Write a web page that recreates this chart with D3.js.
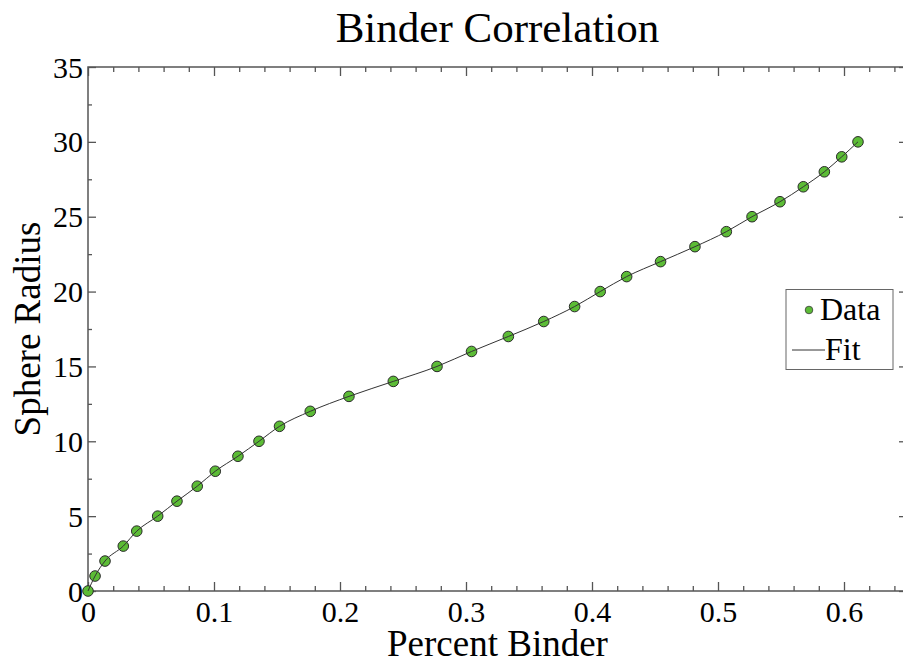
<!DOCTYPE html>
<html>
<head>
<meta charset="utf-8">
<script src="https://cdn.jsdelivr.net/npm/d3@7"></script>
<style>
  body { margin: 0; background: #fff; }
  svg { display: block; font-family: "Liberation Serif", "Times New Roman", serif; }
</style>
</head>
<body>
<svg id="chart" width="903" height="661"></svg>
<script>
// values
const percentBinder = [0, 0.0056, 0.0135, 0.028, 0.0387, 0.0553, 0.0706, 0.0867, 0.101, 0.119,
  0.1357, 0.152, 0.1764, 0.2071, 0.2423, 0.277, 0.3044, 0.3336, 0.3617, 0.3862,
  0.4065, 0.4275, 0.4544, 0.4817, 0.5066, 0.527, 0.5492, 0.5677, 0.5844, 0.5982, 0.6111];
const sphereRadius = [0, 1, 2, 3, 4, 5, 6, 7, 8, 9, 10, 11, 12, 13, 14, 15, 16, 17, 18, 19,
  20, 21, 22, 23, 24, 25, 26, 27, 28, 29, 30];
const xTicks = [0, 0.1, 0.2, 0.3, 0.4, 0.5, 0.6];
const yTicks = [0, 5, 10, 15, 20, 25, 30, 35];
const legendItems = ["Data", "Fit"];

const points = percentBinder.map((x, i) => ({x: x, y: sphereRadius[i]}));

const svg = d3.select("#chart");
const plotLeft = 88, plotRight = 907, plotTop = 67, plotBottom = 591;

const xScale = d3.scaleLinear().domain([0, 0.65]).range([plotLeft, plotRight]);
const yScale = d3.scaleLinear().domain([0, 35]).range([plotBottom, plotTop]);

const xMinor = d3.range(0, 0.651, 0.02).filter(v => !xTicks.some(t => Math.abs(t - v) < 1e-6));
const yMinor = d3.range(2.5, 35, 5);

const frameColor = "#555";
const green = "#5cbc36";

// draw an axis with inward ticks, styled flat
function drawAxis(axis, transform, withLabels) {
  const g = svg.append("g").attr("transform", transform).call(axis)
    .attr("font-family", null).attr("font-size", 30);
  g.select(".domain").remove();
  g.selectAll(".tick line").attr("stroke", frameColor).attr("stroke-width", 1.3);
  if (!withLabels) g.selectAll(".tick text").remove();
  return g;
}

// bottom
const xb = drawAxis(d3.axisBottom(xScale).tickValues(xTicks).tickSizeInner(-9).tickSizeOuter(0)
  .tickFormat(d => d === 0 ? "0" : d3.format(".1f")(d)), `translate(0,${plotBottom})`, true);
xb.selectAll(".tick text").attr("y", 31).attr("dy", null).attr("fill", "#000");
drawAxis(d3.axisBottom(xScale).tickValues(xMinor).tickSizeInner(-5).tickSizeOuter(0), `translate(0,${plotBottom})`, false);

// top
drawAxis(d3.axisTop(xScale).tickValues(xTicks).tickSizeInner(-9).tickSizeOuter(0), `translate(0,${plotTop})`, false);
drawAxis(d3.axisTop(xScale).tickValues(xMinor).tickSizeInner(-5).tickSizeOuter(0), `translate(0,${plotTop})`, false);

// left
const yl = drawAxis(d3.axisLeft(yScale).tickValues(yTicks).tickSizeInner(-8).tickSizeOuter(0),
  `translate(${plotLeft},0)`, true);
yl.selectAll(".tick text").attr("x", -5).attr("dy", 10).attr("fill", "#000");
drawAxis(d3.axisLeft(yScale).tickValues(yMinor).tickSizeInner(-4).tickSizeOuter(0), `translate(${plotLeft},0)`, false);

// right
drawAxis(d3.axisRight(yScale).tickValues(yTicks).tickSizeInner(-8).tickSizeOuter(0), `translate(${plotRight},0)`, false);
drawAxis(d3.axisRight(yScale).tickValues(yMinor).tickSizeInner(-4).tickSizeOuter(0), `translate(${plotRight},0)`, false);

// frame
svg.append("rect")
  .attr("x", plotLeft).attr("y", plotTop)
  .attr("width", plotRight - plotLeft).attr("height", plotBottom - plotTop)
  .attr("fill", "none").attr("stroke", frameColor).attr("stroke-width", 1.5);

// data markers
svg.append("g")
  .selectAll("circle")
  .data(points)
  .join("circle")
  .attr("cx", d => xScale(d.x))
  .attr("cy", d => yScale(d.y))
  .attr("r", 5.3)
  .attr("fill", green)
  .attr("stroke", "#2a2a2a")
  .attr("stroke-width", 1);

// fit curve, on top of markers
const fitLine = d3.line()
  .x(d => xScale(d.x))
  .y(d => yScale(d.y))
  .curve(d3.curveMonotoneX);

svg.append("path")
  .datum(points)
  .attr("d", fitLine)
  .attr("fill", "none")
  .attr("stroke", "#333")
  .attr("stroke-width", 1);

// title and axis labels
svg.append("text")
  .attr("x", (plotLeft + plotRight) / 2).attr("y", 42)
  .attr("text-anchor", "middle").attr("font-size", 43)
  .text("Binder Correlation");

svg.append("text")
  .attr("x", (plotLeft + plotRight) / 2).attr("y", 656)
  .attr("text-anchor", "middle").attr("font-size", 37)
  .text("Percent Binder");

svg.append("text")
  .attr("transform", `translate(40,${(plotTop + plotBottom) / 2}) rotate(-90)`)
  .attr("text-anchor", "middle").attr("font-size", 37)
  .text("Sphere Radius");

// legend
const legend = svg.append("g");
legend.append("rect")
  .attr("x", 786).attr("y", 289.5).attr("width", 107).attr("height", 80)
  .attr("fill", "#fff").attr("stroke", "#666").attr("stroke-width", 1);

legend.append("circle")
  .attr("cx", 809).attr("cy", 310).attr("r", 3.8)
  .attr("fill", green).attr("stroke", "#3a3a3a").attr("stroke-width", 0.8);
legend.append("line")
  .attr("x1", 792).attr("x2", 825).attr("y1", 350).attr("y2", 350)
  .attr("stroke", "#333").attr("stroke-width", 1);

legend.selectAll("text.leg")
  .data(legendItems)
  .join("text")
  .attr("class", "leg")
  .attr("x", (d, i) => i === 0 ? 820 : 825)
  .attr("y", (d, i) => i === 0 ? 320 : 360)
  .attr("font-size", 32)
  .text(d => d);
</script>
</body>
</html>
